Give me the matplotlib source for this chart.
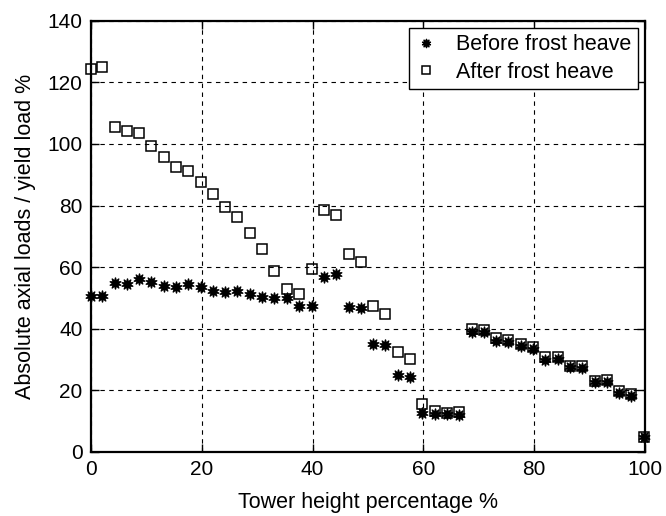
import numpy as np
import matplotlib
matplotlib.use('Agg')
import matplotlib.pyplot as plt
from matplotlib.path import Path

plt.rcParams['font.family'] = ['Liberation Sans', 'DejaVu Sans']

# tower height percentage (same positions for both series)
height = [0, 2.0, 4.3, 6.5, 8.6, 10.8, 13.1, 15.3, 17.5, 19.8, 22.0, 24.2, 26.4,
          28.7, 30.9, 33.1, 35.3, 37.6, 39.8, 42.0, 44.2, 46.5, 48.7, 50.9, 53.1,
          55.4, 57.6, 59.8, 62.0, 64.2, 66.5, 68.7, 70.9, 73.1, 75.3, 77.6, 79.8,
          82.0, 84.2, 86.4, 88.7, 90.9, 93.1, 95.3, 97.5, 99.8]

before = [50.5, 50.5, 54.7, 54.4, 56.0, 55.2, 53.8, 53.6, 54.4, 53.6, 52.2, 51.8, 52.3,
          51.4, 50.2, 49.8, 49.8, 47.5, 47.3, 56.8, 57.6, 47.1, 46.8, 35.0, 34.7,
          24.8, 24.4, 12.5, 12.1, 12.1, 11.9, 39.0, 38.8, 36.1, 35.6, 34.2, 33.3,
          29.9, 30.0, 27.4, 27.3, 22.6, 22.8, 19.2, 18.2, 4.7]

after = [124.5, 124.9, 105.5, 104.1, 103.4, 99.4, 95.8, 92.5, 91.1, 87.6, 83.6, 79.4, 76.3,
         71.1, 65.8, 58.8, 52.8, 51.4, 59.3, 78.5, 76.9, 64.4, 61.5, 47.2, 44.9,
         32.4, 30.0, 15.5, 13.2, 12.5, 12.8, 39.8, 39.6, 37.0, 36.4, 34.9, 34.1,
         30.7, 30.7, 28.0, 27.8, 23.1, 23.3, 19.7, 18.6, 4.9]

# spiky burst marker, like gnuplot's filled star
burst = Path.unit_regular_star(10, 0.45)

fig = plt.figure(figsize=(6.66, 5.16), dpi=100)
ax = fig.add_axes([0.1366, 0.1246, 0.832, 0.835])

ax.plot(height, before, linestyle='none', marker=burst, markersize=8,
        color='black', label='Before frost heave', clip_on=False, zorder=3)
ax.plot(height, after, linestyle='none', marker='s', markersize=7,
        markerfacecolor='none', markeredgecolor='black', markeredgewidth=1.1,
        label='After frost heave', clip_on=False, zorder=4)

ax.set_xlim(0, 100)
ax.set_ylim(0, 140)
ax.set_xticks(np.arange(0, 101, 20))
ax.set_yticks(np.arange(0, 141, 20))
ax.grid(True, color='black', linestyle=(0, (4, 4)), linewidth=0.8)
ax.tick_params(direction='in', length=6, width=1, top=True, right=True,
               labelsize=15, pad=6)
for s in ax.spines.values():
    s.set_linewidth(1.6)

ax.set_xlabel('Tower height percentage %', fontsize=15.5, labelpad=9)
ax.set_ylabel('Absolute axial loads / yield load %', fontsize=15.5, labelpad=8)

leg = ax.legend(loc='upper right', fontsize=15.5, fancybox=False, framealpha=1,
                edgecolor='black', handlelength=1.0, handletextpad=0.9,
                borderpad=0.3, labelspacing=0.3, markerscale=0.75,
                borderaxespad=0, bbox_to_anchor=(0.987, 0.984))
leg.get_frame().set_linewidth(1.0)

plt.savefig('out.png', dpi=100)
